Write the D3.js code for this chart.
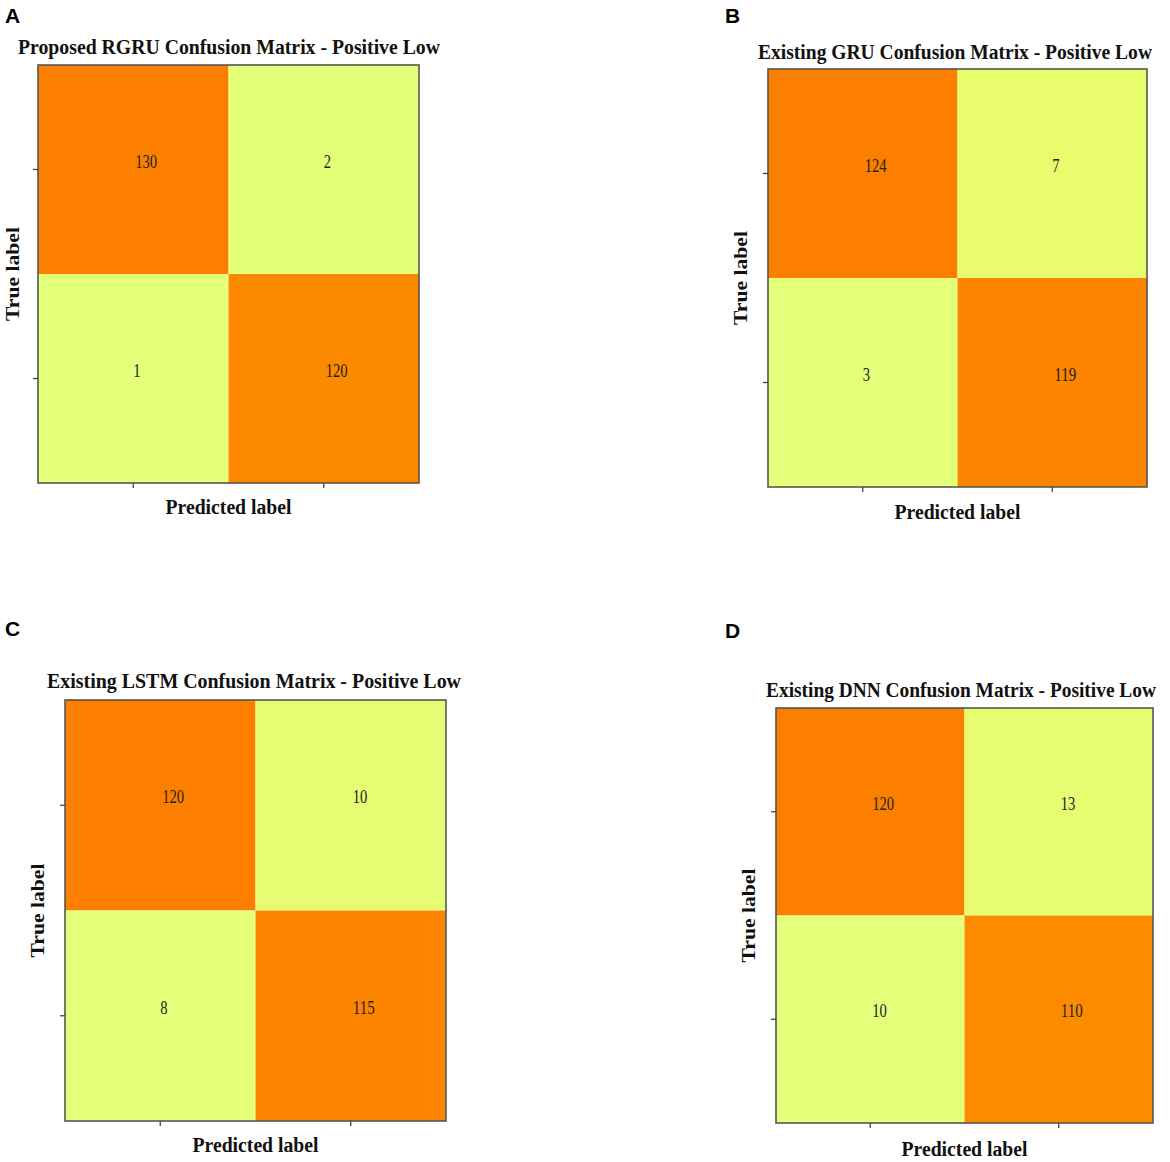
<!DOCTYPE html>
<html>
<head>
<meta charset="utf-8">
<script src="https://cdn.jsdelivr.net/npm/d3@7"></script>
<style>
  body { margin: 0; background: #fff; }
  svg { display: block; }
</style>
</head>
<body>
<div id="chart"></div>
<script>
document.addEventListener('DOMContentLoaded', () => {
    const fullWidth = 1170
    const fullHeight = 1162

    // data
    const panelLetters = ['A', 'B', 'C', 'D']
    const titles = [
        'Proposed RGRU Confusion Matrix - Positive Low',
        'Existing GRU Confusion Matrix - Positive Low',
        'Existing LSTM Confusion Matrix - Positive Low',
        'Existing DNN Confusion Matrix - Positive Low'
    ]
    const classes = [0, 1]
    const rgruMatrix = [[130, 2], [1, 120]]
    const gruMatrix = [[124, 7], [3, 119]]
    const lstmMatrix = [[120, 10], [8, 115]]
    const dnnMatrix = [[120, 13], [10, 110]]
    const matrices = [rgruMatrix, gruMatrix, lstmMatrix, dnnMatrix]
    const xLabel = 'Predicted label'
    const yLabel = 'True label'

    // layout of each panel (box edges + text positions)
    const layouts = [
        { letter: [5, 23], x0: 38, x1: 419, y0: 65, y1: 483, titleX: 229, titleY: 54, titleW: 422, tlX: 19, xlY: 514 },
        { letter: [725, 23], x0: 768, x1: 1147, y0: 69, y1: 487, titleX: 955, titleY: 59, titleW: 394, tlX: 747, xlY: 519 },
        { letter: [5, 636], x0: 65, x1: 446, y0: 700, y1: 1121, titleX: 254, titleY: 688, titleW: 414, tlX: 44, xlY: 1152 },
        { letter: [725, 638], x0: 776, x1: 1153, y0: 708, y1: 1123, titleX: 961, titleY: 697, titleW: 390, tlX: 755, xlY: 1156 }
    ]

    // matplotlib "Wistia" colormap
    const wistia = d3.scaleLinear()
        .domain([0, 0.25, 0.5, 0.75, 1])
        .range(['#e4ff7a', '#ffe81a', '#ffbd00', '#ffa000', '#fc7f00'])

    const svg = d3.select('#chart')
        .append('svg')
        .attr('width', fullWidth)
        .attr('height', fullHeight)

    matrices.forEach((matrix, p) => {
        const lay = layouts[p]
        const g = svg.append('g')

        const xScale = d3.scaleBand().domain(classes).range([lay.x0, lay.x1])
        const yScale = d3.scaleBand().domain(classes).range([lay.y0, lay.y1])

        const flat = matrix.flatMap((row, i) => row.map((v, j) => ({ i, j, v })))
        const ext = d3.extent(flat, d => d.v)
        const colour = v => wistia((v - ext[0]) / (ext[1] - ext[0]))

        // cells
        g.selectAll('rect.cell')
            .data(flat)
            .enter()
            .append('rect')
            .attr('class', 'cell')
            .attr('x', d => xScale(d.j))
            .attr('y', d => yScale(d.i))
            .attr('width', xScale.bandwidth())
            .attr('height', yScale.bandwidth())
            .attr('fill', d => colour(d.v))

        // counts
        g.selectAll('text.count')
            .data(flat)
            .enter()
            .append('text')
            .attr('class', 'count')
            .attr('x', d => xScale(d.j) + xScale.bandwidth() / 2 + (String(d.v).length > 1 ? 2 : 0))
            .attr('y', d => yScale(d.i) + yScale.bandwidth() / 2)
            .attr('dy', '-0.1em')
            .attr('text-anchor', 'start')
            .attr('font-family', '"Liberation Serif", serif')
            .attr('font-size', 18)
            .attr('textLength', d => String(d.v).length * 7.3)
            .attr('lengthAdjust', 'spacingAndGlyphs')
            .attr('fill', '#222')
            .text(d => d.v)

        // frame
        g.append('rect')
            .attr('x', lay.x0)
            .attr('y', lay.y0)
            .attr('width', lay.x1 - lay.x0)
            .attr('height', lay.y1 - lay.y0)
            .attr('fill', 'none')
            .attr('stroke', '#555')
            .attr('stroke-width', 1.6)

        // axes (ticks only)
        const xAxis = g.append('g')
            .attr('transform', `translate(0, ${lay.y1})`)
            .call(d3.axisBottom(xScale).tickSize(5).tickFormat(''))
        const yAxis = g.append('g')
            .attr('transform', `translate(${lay.x0}, 0)`)
            .call(d3.axisLeft(yScale).tickSize(5).tickFormat(''))
        for (const ax of [xAxis, yAxis]) {
            ax.select('.domain').remove()
            ax.selectAll('line').attr('stroke', '#444').attr('stroke-width', 1.3)
        }

        // title
        g.append('text')
            .attr('x', lay.titleX)
            .attr('y', lay.titleY)
            .attr('text-anchor', 'middle')
            .attr('font-family', '"Liberation Serif", serif')
            .attr('font-weight', 'bold')
            .attr('font-size', 20)
            .attr('textLength', lay.titleW)
            .attr('lengthAdjust', 'spacingAndGlyphs')
            .attr('fill', '#111')
            .text(titles[p])

        // x label
        g.append('text')
            .attr('x', (lay.x0 + lay.x1) / 2)
            .attr('y', lay.xlY)
            .attr('text-anchor', 'middle')
            .attr('font-family', '"Liberation Serif", serif')
            .attr('font-weight', 'bold')
            .attr('font-size', 20)
            .attr('textLength', 126)
            .attr('lengthAdjust', 'spacingAndGlyphs')
            .attr('fill', '#111')
            .text(xLabel)

        // y label
        g.append('text')
            .attr('transform', `translate(${lay.tlX}, ${(lay.y0 + lay.y1) / 2}) rotate(-90)`)
            .attr('text-anchor', 'middle')
            .attr('font-family', '"Liberation Serif", serif')
            .attr('font-weight', 'bold')
            .attr('font-size', 19)
            .attr('textLength', 94)
            .attr('lengthAdjust', 'spacingAndGlyphs')
            .attr('fill', '#111')
            .text(yLabel)

        // panel letter
        svg.append('text')
            .attr('x', lay.letter[0])
            .attr('y', lay.letter[1])
            .attr('font-family', '"Liberation Sans", Arial, sans-serif')
            .attr('font-weight', 'bold')
            .attr('font-size', 21)
            .attr('fill', '#000')
            .text(panelLetters[p])
    });
});
</script>
</body>
</html>
